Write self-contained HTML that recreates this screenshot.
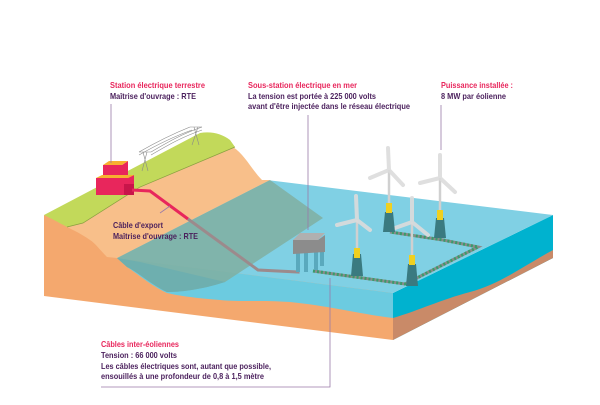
<!DOCTYPE html>
<html><head><meta charset="utf-8"><style>
html,body{margin:0;padding:0;background:#fff}
svg{display:block}
text{font-family:"Liberation Sans Narrow","Liberation Sans",sans-serif;font-weight:bold;font-size:8.5px}
.r{fill:#e8265c}.p{fill:#4a1f5c}
</style></head><body>
<svg width="600" height="405" viewBox="0 0 600 405" xmlns="http://www.w3.org/2000/svg">
<!-- right face -->
<polygon points="393,293 553,215 553,258 393,340" fill="#00b2cf"/>
<path d="M393,340 L393,318 C420,310 440,300 470,292 C500,284 520,268 553,250 L553,258 Z" fill="#c98a68"/>
<!-- front base orange -->
<polygon points="44,215 393,293 393,340 44,296" fill="#f4a86e"/>
<!-- water front face -->
<path d="M117,258 L393,293 L393,318 C360,314 330,306 290,302 C260,300 240,302 220,300 C195,298 180,296 167,293 C150,285 138,274 127,267 Z" fill="#6ccbe0"/>
<!-- water top -->
<polygon points="267,180 553,215 393,293 117,258" fill="#80d0e4"/>
<!-- shelf -->
<path d="M117,258 L270,180 L323,218 L225,282 C200,290 180,292 167,292 C150,284 138,272 127,267 Z" fill="#7fb0a4" opacity="0.9"/>
<path d="M117,258 L140,262 L225,282 C200,290 180,292 167,292 C150,284 138,272 127,267 Z" fill="#6aaeb0" opacity="0.8"/>
<!-- orange slope -->
<path d="M67,227 L140,187 L233,147 C245,155 252,170 262,180 L270,180 L117,258 L107,257 C100,250 95,243 90,240 C80,233 73,230 67,227 Z" fill="#f8bf8a"/>
<!-- green top -->
<path d="M44,215 L200,133 C212,131 222,134 230,140 L235,147 L140,187 L83,223 L67,227 C58,222 50,218 44,215 Z" fill="#c2d95a"/>
<path d="M235,147 L140,187 L83,223 L67,227" fill="none" stroke="#8aa040" stroke-width="0.7"/>
<!-- pylons -->
<g stroke="#8a8a8a" stroke-width="0.6" fill="none">
<path d="M143,152 L148,171 M147,152 L142,171 M139,152 L151,152 M194,127 L199,145 M198,127 L192,145 M190,127 L202,127"/>
<path d="M139,152 C160,140 175,133 190,127 M151,152 C168,142 182,134 202,127 M139,155 C160,143 178,135 192,130 M151,155 C168,145 182,137 202,130"/>
</g>
<!-- buildings -->
<polygon points="103,165 122,165 128,161 128,178 103,178" fill="#e8265c"/>
<polygon points="103,165 109,161 128,161 122,165" fill="#f7b030"/>
<polygon points="96,178 128,178 134,175 134,195 96,195" fill="#e8265c"/>
<polygon points="96,178 102,175 134,175 128,178" fill="#f7b030"/>
<rect x="124" y="184" width="10" height="11" fill="#c8154a"/>
<!-- export cable -->
<polyline points="132,190 150,191 188,219" fill="none" stroke="#e8265c" stroke-width="3"/>
<polyline points="188,219 258,270 298,272 298,258" fill="none" stroke="#9c8a8c" stroke-width="3"/>
<!-- inter cable -->
<polyline points="313,271 405,284 478,247 443,240 390,232" fill="none" stroke="#8a8a8a" stroke-width="3"/>
<polyline points="313,271 405,284 478,247 443,240 390,232" fill="none" stroke="#3a9a6a" stroke-width="3" stroke-dasharray="2,2"/>
<!-- substation -->
<g fill="#5aa9bd"><rect x="296" y="250" width="4" height="22"/><rect x="304" y="250" width="4" height="22"/><rect x="314" y="250" width="4" height="20"/><rect x="320" y="248" width="4" height="18"/></g>
<polygon points="293,240 318,240 325,235 325,252 293,254" fill="#8c8c8c"/>
<polygon points="293,240 300,233 325,233 318,240" fill="#b0b0b0"/>
<!-- turbines -->
<g>
<g stroke="#d0d0d0" stroke-width="2.5"><line x1="389" y1="170" x2="389" y2="205"/><line x1="440" y1="178" x2="440" y2="212"/><line x1="357" y1="220" x2="357" y2="250"/><line x1="412" y1="222" x2="412" y2="257"/></g>
<g stroke="#dcdcdc" stroke-width="4" stroke-linecap="round" opacity="0.9"><path d="M389,170 L388,148 M389,170 L370,178 M389,170 L403,185"/><path d="M440,178 L440,155 M440,178 L420,183 M440,178 L455,192"/><path d="M357,220 L356,196 M357,220 L337,225 M357,220 L370,230"/><path d="M412,222 L412,198 M412,222 L395,228 M412,222 L428,235"/></g>
<g fill="#3a7a80"><polygon points="385,212 393,212 395,232 383,232"/><polygon points="436,218 444,218 446,238 434,238"/><polygon points="353,254 361,254 363,276 351,276"/><polygon points="408,264 416,264 418,286 406,286"/></g>
<g fill="#f0d020"><rect x="386" y="203" width="6" height="10"/><rect x="437" y="210" width="6" height="10"/><rect x="354" y="248" width="6" height="10"/><rect x="409" y="255" width="6" height="10"/></g>
</g>
<!-- leader lines -->
<g stroke="#9a7aa8" stroke-width="0.8" fill="none">
<line x1="111" y1="104" x2="111" y2="163"/>
<line x1="308" y1="115" x2="308" y2="230"/>
<line x1="441" y1="105" x2="441" y2="150"/>
<line x1="160" y1="213" x2="170" y2="206"/>
<polyline points="101,387 330,387 330,278"/>
</g>
<!-- labels -->
<text x="110" y="88" class="r" textLength="95" lengthAdjust="spacingAndGlyphs">Station électrique terrestre</text>
<text x="110" y="99" class="p" textLength="86" lengthAdjust="spacingAndGlyphs">Maîtrise d'ouvrage : RTE</text>
<text x="248" y="88" class="r" textLength="109" lengthAdjust="spacingAndGlyphs">Sous-station électrique en mer</text>
<text x="248" y="99" class="p" textLength="128" lengthAdjust="spacingAndGlyphs">La tension est portée à 225 000 volts</text>
<text x="248" y="109" class="p" textLength="162" lengthAdjust="spacingAndGlyphs">avant d'être injectée dans le réseau électrique</text>
<text x="441" y="88" class="r" textLength="72" lengthAdjust="spacingAndGlyphs">Puissance installée :</text>
<text x="441" y="99" class="p" textLength="65" lengthAdjust="spacingAndGlyphs">8 MW par éolienne</text>
<text x="113" y="228" class="p" textLength="50" lengthAdjust="spacingAndGlyphs">Câble d'export</text>
<text x="113" y="239" class="p" textLength="85" lengthAdjust="spacingAndGlyphs">Maîtrise d'ouvrage : RTE</text>
<text x="101" y="347" class="r" textLength="78" lengthAdjust="spacingAndGlyphs">Câbles inter-éoliennes</text>
<text x="101" y="358" class="p" textLength="76" lengthAdjust="spacingAndGlyphs">Tension : 66 000 volts</text>
<text x="101" y="369" class="p" textLength="170" lengthAdjust="spacingAndGlyphs">Les câbles électriques sont, autant que possible,</text>
<text x="101" y="379" class="p" textLength="163" lengthAdjust="spacingAndGlyphs">ensouillés à une profondeur de 0,8 à 1,5 mètre</text>
</svg>
</body></html>
